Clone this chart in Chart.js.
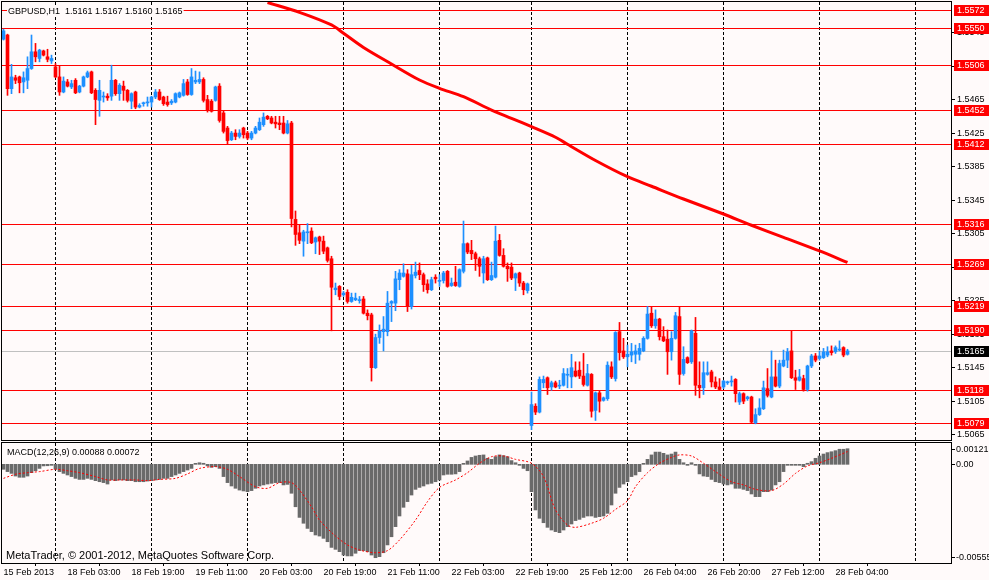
<!DOCTYPE html>
<html><head><meta charset="utf-8">
<script src="https://cdn.jsdelivr.net/npm/chart.js@4/dist/chart.umd.min.js"></script>
<style>
html,body{margin:0;padding:0;background:#FFFAFA;}
#wrap{position:relative;width:989px;height:580px;overflow:hidden;background:#FFFAFA;}
canvas{position:absolute;left:0;}
#main{top:0;} #macd{top:442px;}
</style></head><body>
<div id="wrap"><canvas id="main" width="989" height="442"></canvas><canvas id="macd" width="989" height="138"></canvas></div>
<script>
const symbol = 'GBPUSD', timeframe = 'H1';
const open = [1.5537,1.5542,1.5478,1.5491,1.5492,1.5486,1.5488,1.5502,1.5522,1.5514,
1.5523,1.5516,1.5511,1.5504,1.5492,1.5474,1.5486,1.5480,1.5488,1.5474,
1.5481,1.5492,1.5498,1.5476,1.5464,1.5468,1.5469,1.5469,1.5488,1.5472,
1.5481,1.5476,1.5463,1.5474,1.5456,1.5460,1.5461,1.5462,1.5468,1.5474,
1.5468,1.5462,1.5461,1.5462,1.5468,1.5470,1.5486,1.5471,1.5486,1.5486,
1.5489,1.5465,1.5463,1.5464,1.5481,1.5449,1.5431,1.5417,1.5425,1.5421,
1.5431,1.5425,1.5419,1.5425,1.5429,1.5435,1.5445,1.5443,1.5438,1.5437,
1.5437,1.5425,1.5437,1.5322,1.5306,1.5296,1.5306,1.5308,1.5295,1.5301,
1.5296,1.5288,1.5275,1.5238,1.5242,1.5232,1.5235,1.5224,1.5226,1.5225,
1.5227,1.5210,1.5208,1.5145,1.5181,1.5188,1.5188,1.5222,1.5222,1.5250,
1.5254,1.5257,1.5218,1.5255,1.5261,1.5256,1.5245,1.5238,1.5253,1.5248,
1.5249,1.5260,1.5243,1.5247,1.5242,1.5260,1.5293,1.5285,1.5281,1.5275,
1.5258,1.5276,1.5250,1.5253,1.5297,1.5279,1.5266,1.5265,1.5252,1.5258,
1.5246,1.5237,1.5076,1.5099,1.5092,1.5127,1.5133,1.5122,1.5127,1.5123,
1.5124,1.5136,1.5134,1.5141,1.5142,1.5135,1.5124,1.5137,1.5094,1.5115,
1.5106,1.5108,1.5146,1.5132,1.5188,1.5165,1.5158,1.5160,1.5161,1.5161,
1.5165,1.5180,1.5210,1.5195,1.5203,1.5182,1.5179,1.5164,1.5180,1.5206,
1.5138,1.5157,1.5152,1.5186,1.5124,1.5121,1.5137,1.5140,1.5128,1.5122,
1.5122,1.5127,1.5128,1.5131,1.5104,1.5114,1.5108,1.5110,1.5079,1.5089,
1.5096,1.5120,1.5110,1.5134,1.5123,1.5147,1.5154,1.5165,1.5133,1.5130,
1.5132,1.5119,1.5147,1.5159,1.5156,1.5157,1.5160,1.5165,1.5164,1.5166,
1.5169,1.5161];
const high = [1.5549,1.5543,1.5507,1.5494,1.5493,1.5498,1.5516,1.5542,1.5532,1.5525,
1.5524,1.5525,1.5518,1.5508,1.5505,1.5492,1.5489,1.5488,1.5490,1.5482,
1.5493,1.5499,1.5499,1.5478,1.5488,1.5474,1.5472,1.5506,1.5489,1.5484,
1.5487,1.5477,1.5473,1.5475,1.5460,1.5462,1.5468,1.5469,1.5477,1.5477,
1.5469,1.5469,1.5465,1.5473,1.5474,1.5489,1.5489,1.5502,1.5499,1.5498,
1.5491,1.5470,1.5465,1.5481,1.5484,1.5451,1.5433,1.5427,1.5429,1.5429,
1.5432,1.5427,1.5427,1.5433,1.5443,1.5449,1.5446,1.5445,1.5445,1.5445,
1.5445,1.5440,1.5439,1.5332,1.5315,1.5309,1.5317,1.5312,1.5301,1.5302,
1.5302,1.5289,1.5278,1.5246,1.5243,1.5236,1.5238,1.5234,1.5234,1.5230,
1.5230,1.5214,1.5210,1.5185,1.5196,1.5206,1.5236,1.5225,1.5260,1.5262,
1.5269,1.5262,1.5267,1.5271,1.5270,1.5258,1.5250,1.5253,1.5256,1.5256,
1.5260,1.5261,1.5252,1.5266,1.5263,1.5320,1.5294,1.5297,1.5283,1.5277,
1.5278,1.5277,1.5271,1.5314,1.5304,1.5287,1.5270,1.5270,1.5258,1.5259,
1.5248,1.5246,1.5116,1.5102,1.5134,1.5135,1.5134,1.5129,1.5129,1.5130,
1.5144,1.5144,1.5161,1.5152,1.5152,1.5162,1.5149,1.5138,1.5116,1.5118,
1.5110,1.5152,1.5152,1.5188,1.5199,1.5180,1.5172,1.5174,1.5172,1.5174,
1.5182,1.5218,1.5218,1.5214,1.5204,1.5194,1.5190,1.5188,1.5211,1.5217,
1.5170,1.5158,1.5190,1.5205,1.5152,1.5152,1.5152,1.5142,1.5134,1.5132,
1.5130,1.5129,1.5135,1.5132,1.5116,1.5115,1.5111,1.5111,1.5096,1.5108,
1.5129,1.5144,1.5165,1.5154,1.5154,1.5166,1.5168,1.5189,1.5142,1.5143,
1.5136,1.5148,1.5161,1.5162,1.5165,1.5168,1.5170,1.5171,1.5171,1.5177,
1.5170,1.5167];
const low = [1.5536,1.5470,1.5472,1.5484,1.5473,1.5473,1.5478,1.5501,1.5510,1.5510,
1.5517,1.5510,1.5508,1.5491,1.5470,1.5473,1.5480,1.5478,1.5472,1.5473,
1.5480,1.5491,1.5472,1.5435,1.5445,1.5462,1.5464,1.5464,1.5470,1.5464,
1.5464,1.5462,1.5454,1.5454,1.5455,1.5457,1.5457,1.5456,1.5466,1.5464,
1.5458,1.5457,1.5459,1.5461,1.5467,1.5469,1.5470,1.5470,1.5484,1.5484,
1.5462,1.5450,1.5450,1.5463,1.5438,1.5425,1.5412,1.5416,1.5417,1.5419,
1.5419,1.5417,1.5417,1.5424,1.5428,1.5433,1.5441,1.5436,1.5431,1.5429,
1.5424,1.5424,1.5313,1.5291,1.5293,1.5278,1.5293,1.5293,1.5281,1.5280,
1.5281,1.5271,1.5189,1.5232,1.5226,1.5230,1.5222,1.5223,1.5225,1.5222,
1.5209,1.5202,1.5129,1.5144,1.5174,1.5165,1.5183,1.5200,1.5213,1.5238,
1.5253,1.5212,1.5215,1.5252,1.5250,1.5236,1.5234,1.5237,1.5246,1.5242,
1.5246,1.5241,1.5242,1.5242,1.5241,1.5258,1.5281,1.5274,1.5261,1.5254,
1.5246,1.5249,1.5249,1.5252,1.5278,1.5265,1.5248,1.5250,1.5237,1.5242,
1.5232,1.5234,1.5071,1.5089,1.5091,1.5121,1.5113,1.5118,1.5121,1.5120,
1.5123,1.5121,1.5121,1.5134,1.5132,1.5123,1.5123,1.5086,1.5082,1.5092,
1.5105,1.5106,1.5132,1.5129,1.5154,1.5156,1.5146,1.5152,1.5150,1.5154,
1.5164,1.5179,1.5193,1.5192,1.5178,1.5176,1.5137,1.5154,1.5179,1.5125,
1.5136,1.5150,1.5150,1.5112,1.5109,1.5113,1.5136,1.5122,1.5120,1.5118,
1.5120,1.5125,1.5123,1.5104,1.5101,1.5102,1.5106,1.5079,1.5078,1.5088,
1.5095,1.5110,1.5109,1.5122,1.5121,1.5146,1.5145,1.5132,1.5119,1.5129,
1.5117,1.5117,1.5145,1.5152,1.5154,1.5156,1.5158,1.5160,1.5162,1.5165,
1.5158,1.5160];
const close = [1.5547,1.5478,1.5492,1.5488,1.5485,1.5491,1.5502,1.5522,1.5516,1.5524,
1.5518,1.5513,1.5514,1.5492,1.5474,1.5487,1.5481,1.5484,1.5473,1.5481,
1.5492,1.5497,1.5473,1.5465,1.5476,1.5469,1.5467,1.5488,1.5472,1.5482,
1.5476,1.5464,1.5472,1.5456,1.5458,1.5461,1.5462,1.5468,1.5474,1.5465,
1.5460,1.5459,1.5463,1.5472,1.5473,1.5484,1.5471,1.5492,1.5488,1.5489,
1.5464,1.5452,1.5451,1.5480,1.5440,1.5427,1.5416,1.5425,1.5421,1.5425,
1.5423,1.5419,1.5425,1.5431,1.5438,1.5444,1.5442,1.5437,1.5436,1.5435,
1.5425,1.5436,1.5323,1.5304,1.5297,1.5307,1.5307,1.5294,1.5300,1.5296,
1.5284,1.5273,1.5241,1.5240,1.5230,1.5234,1.5224,1.5229,1.5228,1.5226,
1.5210,1.5207,1.5145,1.5181,1.5189,1.5191,1.5222,1.5224,1.5251,1.5258,
1.5258,1.5218,1.5256,1.5259,1.5256,1.5244,1.5238,1.5250,1.5251,1.5249,
1.5258,1.5242,1.5246,1.5243,1.5262,1.5293,1.5283,1.5281,1.5275,1.5266,
1.5275,1.5250,1.5255,1.5296,1.5279,1.5266,1.5263,1.5252,1.5257,1.5246,
1.5238,1.5245,1.5101,1.5092,1.5131,1.5131,1.5121,1.5127,1.5122,1.5124,
1.5138,1.5137,1.5145,1.5135,1.5135,1.5125,1.5138,1.5093,1.5115,1.5105,
1.5109,1.5148,1.5134,1.5187,1.5163,1.5158,1.5161,1.5164,1.5165,1.5168,
1.5180,1.5209,1.5195,1.5203,1.5182,1.5177,1.5164,1.5180,1.5207,1.5137,
1.5155,1.5151,1.5189,1.5124,1.5121,1.5139,1.5139,1.5128,1.5122,1.5119,
1.5129,1.5128,1.5129,1.5114,1.5114,1.5105,1.5110,1.5080,1.5089,1.5097,
1.5121,1.5112,1.5134,1.5123,1.5150,1.5154,1.5164,1.5133,1.5130,1.5134,
1.5119,1.5147,1.5159,1.5154,1.5159,1.5164,1.5164,1.5163,1.5169,1.5167,
1.5160,1.5165];
// moving average (read at sample bars)
const maIdx = [66,74,82,85,90,97,104,109,115,122,127,132,138,141,148,156,162,170,180,187,195,204,211];
const maVal = [1.55808,1.55691,1.55540,1.55441,1.55271,1.55074,1.54883,1.54784,1.54684,1.54525,1.54426,1.54326,1.54200,1.54116,1.53923,1.53729,1.53615,1.53463,1.53284,1.53150,1.53006,1.52843,1.52706];
// horizontal levels
const levels = [1.5572,1.5550,1.5506,1.5452,1.5412,1.5316,1.5269,1.5219,1.5190,1.5118,1.5079];
const bidPrice = 1.5165;
const priceTicks = [1.5065,1.5105,1.5145,1.5185,1.5225,1.5265,1.5305,1.5345,1.5385,1.5425,1.5465,1.5505,1.5545];
// MACD
const macdHist = [
-0.00028,-0.00041,-0.00051,-0.00066,-0.00073,-0.00073,-0.00066,-0.00047,-0.00036,-0.00023,
-0.00009,-0.00008,-0.00004,-0.00028,-0.00041,-0.00051,-0.00060,-0.00069,-0.00079,-0.00085,
-0.00085,-0.00079,-0.00085,-0.00092,-0.00098,-0.00103,-0.00111,-0.00088,-0.00092,-0.00088,
-0.00088,-0.00092,-0.00092,-0.00098,-0.00098,-0.00098,-0.00094,-0.00092,-0.00088,-0.00085,
-0.00079,-0.00079,-0.00069,-0.00060,-0.00051,-0.00041,-0.00032,-0.00023,0.00002,0.00009,
0.00006,-0.00009,-0.00017,-0.00013,-0.00023,-0.00069,-0.00103,-0.00122,-0.00135,-0.00145,
-0.00150,-0.00154,-0.00148,-0.00135,-0.00122,-0.00116,-0.00111,-0.00107,-0.00103,-0.00103,
-0.00116,-0.00113,-0.00163,-0.00239,-0.00299,-0.00332,-0.00361,-0.00379,-0.00398,-0.00404,
-0.00417,-0.00436,-0.00468,-0.00479,-0.00492,-0.00511,-0.00516,-0.00516,-0.00501,-0.00486,
-0.00486,-0.00492,-0.00511,-0.00526,-0.00520,-0.00498,-0.00454,-0.00408,-0.00351,-0.00291,
-0.00242,-0.00210,-0.00173,-0.00141,-0.00130,-0.00122,-0.00111,-0.00107,-0.00098,-0.00088,
-0.00060,-0.00056,-0.00056,-0.00054,-0.00041,0.00002,0.00019,0.00039,0.00047,0.00051,
0.00053,0.00034,0.00028,0.00043,0.00053,0.00049,0.00043,0.00021,0.00009,-0.00002,
-0.00023,-0.00036,-0.00154,-0.00257,-0.00304,-0.00329,-0.00355,-0.00370,-0.00379,-0.00385,
-0.00370,-0.00351,-0.00336,-0.00317,-0.00310,-0.00299,-0.00291,-0.00291,-0.00299,-0.00295,
-0.00291,-0.00276,-0.00229,-0.00163,-0.00130,-0.00111,-0.00098,-0.00069,-0.00060,-0.00041,
0.00005,0.00028,0.00053,0.00069,0.00069,0.00062,0.00053,0.00058,0.00069,0.00028,
0.00009,-0.00004,0.00009,-0.00004,-0.00054,-0.00066,-0.00069,-0.00085,-0.00098,-0.00103,
-0.00111,-0.00116,-0.00111,-0.00135,-0.00135,-0.00141,-0.00148,-0.00167,-0.00182,-0.00182,
-0.00154,-0.00154,-0.00145,-0.00116,-0.00098,-0.00041,-0.00004,-0.00002,-0.00002,-0.00004,
-0.00013,0.00006,0.00015,0.00034,0.00047,0.00058,0.00066,0.00071,0.00077,0.00085,
0.00085,0.00088];
const sigIdx = [0,3,6,9,13,16,19,23,26,29,33,36,39,43,46,49,53,56,59,63,66,69,72,74,77,79,83,86,89,93,96,99,103,106,109,113,116,119,122,125,128,132,135,138,141,143,147,150,153,156,158,161,164,167,169,172,175,178,182,185,188,192,195,198,201,204,207,211];
const sigVal = [-0.00079,-0.00056,-0.00047,-0.00041,-0.00028,-0.00036,-0.00047,-0.00069,-0.00088,-0.00088,-0.00088,-0.00092,-0.00085,-0.00079,-0.00054,-0.00023,-0.00013,-0.00028,-0.00069,-0.00126,-0.00135,-0.00103,-0.00103,-0.00145,-0.00239,-0.00314,-0.00404,-0.00454,-0.00483,-0.00498,-0.00486,-0.00426,-0.00314,-0.00210,-0.00130,-0.00088,-0.00047,0.00006,0.00043,0.00047,0.00028,0.00006,-0.00069,-0.00257,-0.00342,-0.00355,-0.00332,-0.00304,-0.00254,-0.00205,-0.00126,-0.00047,0.00006,0.00039,0.00053,0.00047,0.00006,-0.00041,-0.00098,-0.00116,-0.00141,-0.00148,-0.00111,-0.00051,-0.00009,0.00009,0.00034,0.00072];
const macdAxisValues = [0.00121, 0, -0.00555];
// time axis
const timeTickIdx = [0,16,32,48,64,80,96,112,128,144,160,176,192,208];
const timeTickLabels = ['15 Feb 2013','18 Feb 03:00','18 Feb 19:00','19 Feb 11:00','20 Feb 03:00','20 Feb 19:00','21 Feb 11:00','22 Feb 03:00','22 Feb 19:00','25 Feb 12:00','26 Feb 04:00','26 Feb 20:00','27 Feb 12:00','28 Feb 04:00'];
const dayGridIdx = [13,37,61,85,109,132,156,180,204,228];

// ---- styling / layout ----
const FONT = "'Liberation Sans', Arial, sans-serif";
const BG = '#FFFAFA', BLUE = '#1E90FF', RED = '#FF0000', GRAY = '#6A6A6A';
const XMIN = -0.375, XMAX = 237.125;
const P_MIN = 1.50587, P_MAX = 1.55814;
const M_MIN = -0.005558, M_MAX = 0.0012015;
const n = close.length;
const idx = close.map((_, i) => i);
const candleColors = close.map((c, i) => c >= open[i] ? BLUE : RED);
const zeroPad = s => { s.paddingTop = 0; s.paddingBottom = 0; s.paddingLeft = 0; s.paddingRight = 0; };

const mtPlugin = {
  id: 'mt',
  beforeDatasetsDraw(chart) {
    const {ctx, chartArea: a, scales} = chart;
    ctx.save();
    ctx.beginPath(); ctx.rect(a.left, a.top, a.right - a.left, a.bottom - a.top); ctx.clip();
    ctx.lineWidth = 1; ctx.strokeStyle = '#000'; ctx.setLineDash([3, 2]);
    dayGridIdx.forEach(i => {
      const px = Math.floor(scales.x.getPixelForValue(i)) + 0.5;
      ctx.beginPath(); ctx.moveTo(px, a.top); ctx.lineTo(px, a.bottom); ctx.stroke();
    });
    ctx.setLineDash([]);
    if (chart.canvas.id === 'main') {
      const hline = (v, col) => {
        const py = Math.round(scales.y.getPixelForValue(v)) + 0.5;
        ctx.strokeStyle = col; ctx.beginPath(); ctx.moveTo(a.left, py); ctx.lineTo(a.right, py); ctx.stroke();
      };
      hline(bidPrice, '#C0C0C0');
      levels.forEach(v => hline(v, RED));
    }
    ctx.restore();
  },
  afterDraw(chart) {
    const {ctx, chartArea: a, scales} = chart;
    ctx.save();
    ctx.strokeStyle = '#000'; ctx.lineWidth = 1;
    ctx.strokeRect(a.left - 0.5, a.top - 0.5, a.right - a.left, a.bottom - a.top + 1);
    ctx.textBaseline = 'middle'; ctx.textAlign = 'left';
    ctx.font = '9px ' + FONT;
    if (chart.canvas.id === 'main') {
      const t = symbol + ',' + timeframe + '  ' + [open[n-1], high[n-1], low[n-1], close[n-1]].map(v => v.toFixed(4)).join(' ');
      const w = ctx.measureText(t).width;
      ctx.fillStyle = BG; ctx.fillRect(7, 5, w + 2, 12);
      ctx.fillStyle = '#000'; ctx.fillText(t, 8, 11.5);
      const box = (v, col) => {
        const py = Math.round(scales.y.getPixelForValue(v));
        ctx.fillStyle = col; ctx.fillRect(954, py - 5, 35, 11);
        ctx.fillStyle = '#FFFFFF'; ctx.fillText(v.toFixed(4), 957, py + 0.5);
      };
      levels.forEach(v => box(v, RED));
      box(bidPrice, '#000000');
    } else {
      ctx.fillStyle = '#000';
      const t = 'MACD(12,26,9) ' + macdHist[n-1].toFixed(5) + ' ' + sigVal[sigVal.length-1].toFixed(5);
      ctx.fillText(t, 7, a.top + 10);
      ctx.font = '11px ' + FONT;
      ctx.fillText('MetaTrader, \u00A9 2001-2012, MetaQuotes Software Corp.', 6, a.bottom - 7.5);
      ctx.font = '9px ' + FONT;
      macdAxisValues.forEach(v => {
        let py = scales.y.getPixelForValue(v);
        py = Math.round(Math.min(Math.max(py, a.top + 6), a.bottom - 6));
        ctx.beginPath(); ctx.moveTo(a.right, py + 0.5); ctx.lineTo(a.right + 3, py + 0.5); ctx.stroke();
        ctx.fillText(v === 0 ? '0.00' : v.toFixed(5), a.right + 4, py + 0.5);
      });
    }
    ctx.restore();
  }
};

const common = {
  responsive: false, animation: false, devicePixelRatio: 1, events: [],
  plugins: { legend: { display: false }, tooltip: { enabled: false } }
};

new Chart(document.getElementById('main'), {
  type: 'bar',
  data: { datasets: [
    { type: 'line', data: maIdx.map((x, k) => ({x, y: maVal[k]})), borderColor: RED, borderWidth: 3,
      pointRadius: 0, tension: 0.3, clip: 0, fill: false },
    { type: 'bar', data: idx.map(i => ({x: i, y: [low[i], high[i]]})), backgroundColor: candleColors,
      barThickness: 1, grouped: false, borderWidth: 0 },
    { type: 'bar', data: idx.map(i => ({x: i, y: [open[i], close[i]]})), backgroundColor: candleColors,
      barThickness: 3, minBarLength: 1, grouped: false, borderWidth: 0 }
  ]},
  options: Object.assign({}, common, {
    layout: { padding: { left: 2, top: 2, right: 0, bottom: 2 }, autoPadding: false },
    scales: {
      x: { type: 'linear', min: XMIN, max: XMAX, display: false, offset: false, bounds: 'data' },
      y: { type: 'linear', position: 'right', min: P_MIN, max: P_MAX, bounds: 'data',
        afterBuildTicks: s => { s.ticks = priceTicks.map(v => ({value: v})); },
        afterFit: s => { s.width = 37; zeroPad(s); },
        ticks: { autoSkip: false, callback: v => Number(v).toFixed(4), font: { family: FONT, size: 9 }, color: '#000', padding: 2 },
        grid: { drawOnChartArea: false, drawTicks: true, tickLength: 3, color: '#000' },
        border: { display: false } }
    }
  }),
  plugins: [mtPlugin]
});

new Chart(document.getElementById('macd'), {
  type: 'bar',
  data: { datasets: [
    { type: 'line', data: sigIdx.map((x, k) => ({x, y: sigVal[k]})), borderColor: RED, borderWidth: 1,
      borderDash: [2, 2], pointRadius: 0, tension: 0.3, fill: false },
    { type: 'bar', data: idx.map(i => ({x: i, y: macdHist[i]})), backgroundColor: GRAY,
      barThickness: 3, minBarLength: 1, grouped: false, borderWidth: 0 }
  ]},
  options: Object.assign({}, common, {
    layout: { padding: { left: 2, top: 1, right: 0, bottom: 0 }, autoPadding: false },
    scales: {
      x: { type: 'linear', position: 'bottom', min: XMIN, max: XMAX, offset: false, bounds: 'data',
        afterBuildTicks: s => { s.ticks = timeTickIdx.map(v => ({value: v})); },
        afterFit: s => { s.height = 17; zeroPad(s); },
        ticks: { autoSkip: false, maxRotation: 0, minRotation: 0, align: 'start', padding: 1, color: '#000',
          font: { family: FONT, size: 9 }, callback: (v, k) => timeTickLabels[k] },
        grid: { drawOnChartArea: false, drawTicks: true, tickLength: 3, color: '#000' },
        border: { display: false } },
      y: { type: 'linear', position: 'right', min: M_MIN, max: M_MAX, bounds: 'data',
        afterFit: s => { s.width = 37; zeroPad(s); },
        ticks: { display: false }, grid: { display: false }, border: { display: false } }
    }
  }),
  plugins: [mtPlugin]
});
</script>
</body></html>
